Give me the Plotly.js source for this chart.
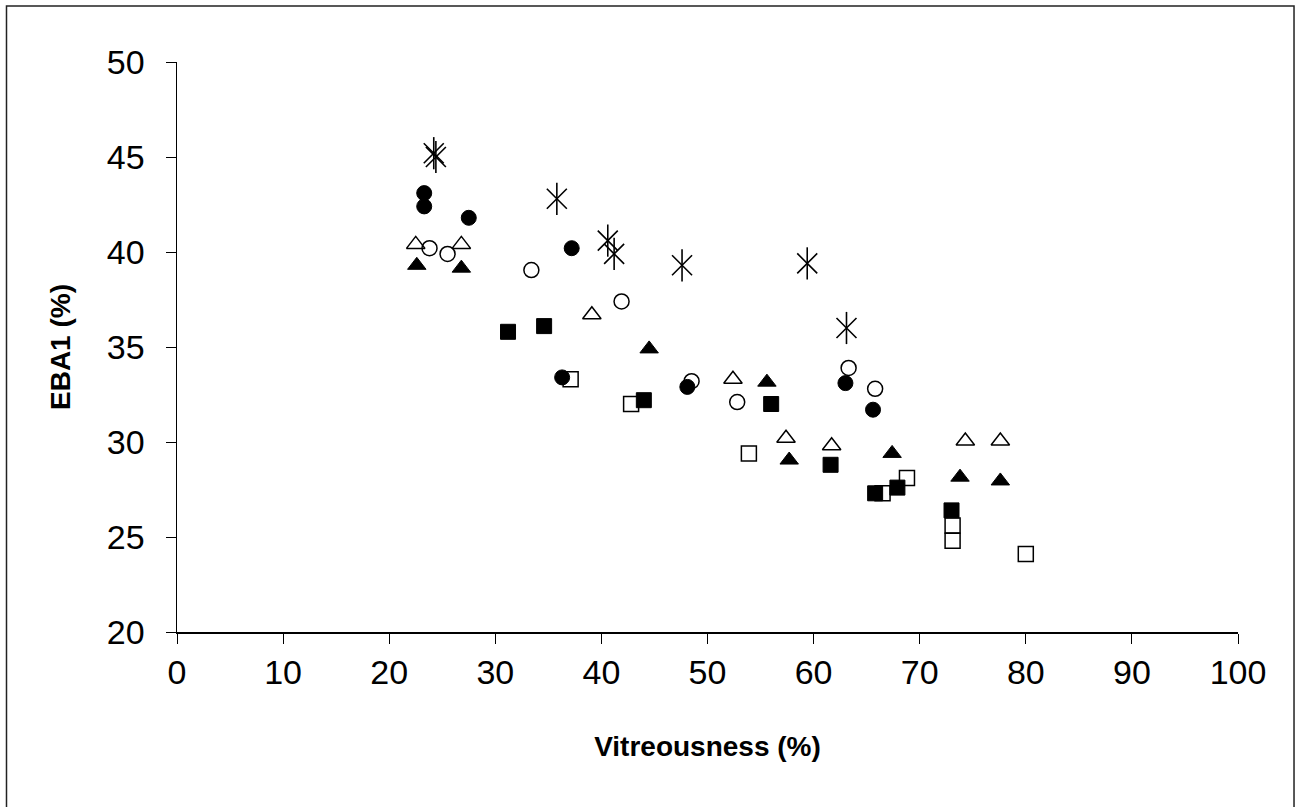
<!DOCTYPE html>
<html>
<head>
<meta charset="utf-8">
<script src="https://cdn.plot.ly/plotly-3.0.1.min.js"></script>
<style>
html,body{margin:0;padding:0;background:#fff;}
#chart{width:1303px;height:807px;}
</style>
</head>
<body>
<div id="chart"></div>
<script>
// Series data (Vitreousness %, EBA1 %)
const starX = [24.2, 24.4, 35.8, 40.6, 41.2, 47.6, 59.4, 63.1];
const starY = [45.2, 45.0, 42.8, 40.6, 39.9, 39.3, 39.4, 36.0];

const openCircleX = [23.8, 25.5, 33.4, 41.9, 48.5, 52.8, 63.3, 65.8];
const openCircleY = [40.2, 39.9, 39.05, 37.4, 33.2, 32.1, 33.9, 32.8];

const openTriX = [22.5, 26.8, 39.1, 52.4, 57.4, 61.7, 74.3, 77.6];
const openTriY = [40.4, 40.4, 36.7, 33.3, 30.2, 29.8, 30.05, 30.05];

const openSqX = [37.1, 42.8, 53.9, 66.5, 68.8, 73.1, 73.1, 80.0];
const openSqY = [33.3, 32.0, 29.4, 27.3, 28.1, 25.6, 24.8, 24.1];

const fillCircleX = [23.3, 23.3, 27.5, 37.2, 36.3, 48.1, 63.0, 65.6];
const fillCircleY = [43.1, 42.4, 41.8, 40.2, 33.4, 32.9, 33.1, 31.7];

const fillTriX = [22.6, 26.8, 44.5, 55.6, 57.7, 67.4, 73.8, 77.6];
const fillTriY = [39.3, 39.15, 34.9, 33.15, 29.05, 29.4, 28.15, 27.95];

const fillSqX = [31.2, 34.6, 44.0, 56.0, 61.6, 65.8, 67.9, 73.0];
const fillSqY = [35.8, 36.1, 32.2, 32.0, 28.8, 27.3, 27.6, 26.4];

const xTicks = [0, 10, 20, 30, 40, 50, 60, 70, 80, 90, 100];
const yTicks = [20, 25, 30, 35, 40, 45, 50];

function tr(x, y, symbol, size, lw) {
  return {
    type: 'scatter', mode: 'markers', x: x, y: y, hoverinfo: 'x+y',
    marker: { symbol: symbol, size: size, color: '#000', line: { color: '#000', width: lw } }
  };
}

const data = [
  tr(openSqX, openSqY, 'square-open', 15, 1.5),
  tr(openCircleX, openCircleY, 'circle-open', 15, 1.5),
  tr(openTriX, openTriY, 'triangle-up-open', 16, 1.5),
  tr(starX, starY, 'x-thin-open', 20, 1.6),
  tr(starX, starY, 'line-ns-open', 23, 1.6),
  tr(fillSqX, fillSqY, 'square', 15, 1),
  tr(fillCircleX, fillCircleY, 'circle', 15, 1),
  tr(fillTriX, fillTriY, 'triangle-up', 16, 1)
];

const fontFam = '"Liberation Sans", Arial, sans-serif';

const layout = {
  width: 1303, height: 807,
  margin: { l: 177, r: 65, t: 62, b: 175 },
  paper_bgcolor: '#fff', plot_bgcolor: '#fff',
  showlegend: false,
  font: { family: fontFam, color: '#000', size: 34 },
  xaxis: {
    range: [0, 100], tickvals: xTicks, ticktext: xTicks.map(String),
    showgrid: false, zeroline: false, showline: true, linecolor: '#000', linewidth: 1.5,
    ticks: 'outside', ticklen: 10, tickcolor: '#000', tickwidth: 1,
    ticklabelstandoff: 0,
    tickfont: { family: fontFam, size: 34, color: '#000' },
    title: { text: '<b>Vitreousness (%)</b>', font: { family: fontFam, size: 28, color: '#000' }, standoff: 46 },
    fixedrange: true
  },
  yaxis: {
    range: [20, 50], tickvals: yTicks, ticktext: yTicks.map(String),
    showgrid: false, zeroline: false, showline: true, linecolor: '#000', linewidth: 1.5,
    ticks: 'outside', ticklen: 10, tickcolor: '#000', tickwidth: 1,
    ticklabelstandoff: 14,
    tickfont: { family: fontFam, size: 34, color: '#000' },
    title: { text: '<b>EBA1 (%)</b>', font: { family: fontFam, size: 28, color: '#000' }, standoff: 28 },
    fixedrange: true
  },
  shapes: [{
    type: 'rect', xref: 'paper', yref: 'paper',
    x0: -0.1607, x1: 1.0528, y0: -0.32, y1: 1.0982,
    line: { color: '#222', width: 1.5 }, fillcolor: 'rgba(0,0,0,0)', layer: 'below'
  }]
};

Plotly.newPlot('chart', data, layout, { displayModeBar: false, staticPlot: true });
</script>
</body>
</html>
